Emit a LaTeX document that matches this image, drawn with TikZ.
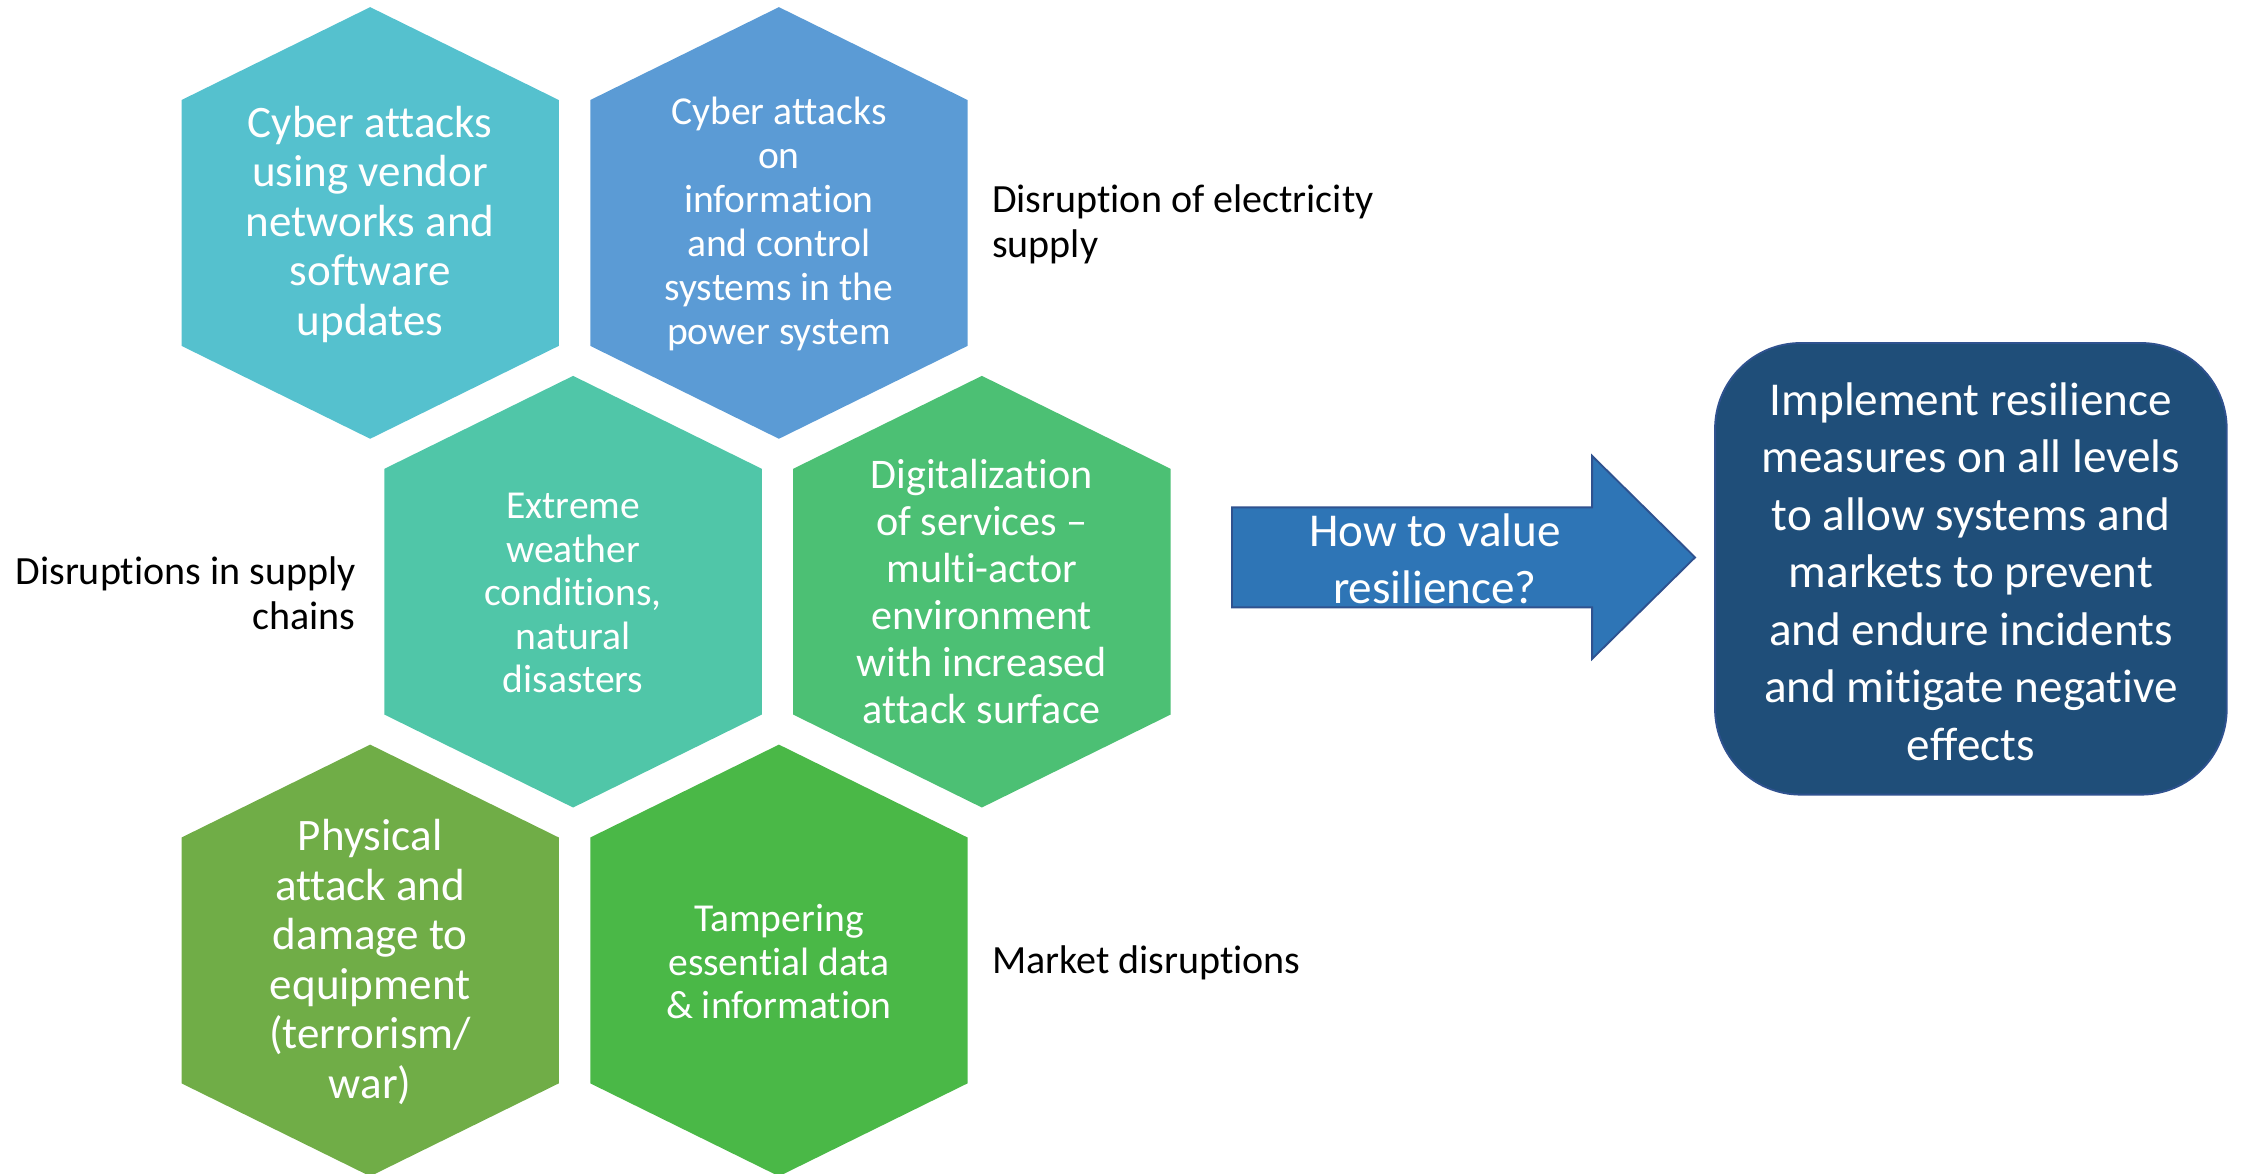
\documentclass[tikz,border=0pt]{standalone}
\usepackage{fontspec}
\setmainfont{Carlito}[Ligatures=CommonOff]

\definecolor{hexcyan}{HTML}{55C1CE}
\definecolor{hexblue}{HTML}{5B9BD5}
\definecolor{hexteal}{HTML}{50C6A8}
\definecolor{hexmint}{HTML}{4CC074}
\definecolor{hexolive}{HTML}{70AD47}
\definecolor{hexgreen}{HTML}{4AB847}
\definecolor{arrowblue}{HTML}{2E75B6}
\definecolor{edgeblue}{HTML}{2F528F}
\definecolor{boxblue}{HTML}{1F4E79}

% pointy-top hexagon around a centre
\newcommand{\hexcell}[2]{\fill[#1, shift={(#2)}] (0,-151) -- (132,-86) -- (132,86) -- (0,151) -- (-132,86) -- (-132,-86) -- cycle;}

\tikzset{
    hextext/.style={text=white, align=center, inner sep=0pt},
    sidelabel/.style={text=black, inner sep=0pt, font=\fontsize{28}{31}\selectfont},
}

\begin{document}
\begin{tikzpicture}[x=1pt, y=-1pt]
    \useasboundingbox (0, 0) rectangle (1568, 821);

    \hexcell{hexcyan}{259, 156}
    \hexcell{hexblue}{545, 156}
    \hexcell{hexteal}{401, 414}
    \hexcell{hexmint}{687, 414}
    \hexcell{hexolive}{259, 672}
    \hexcell{hexgreen}{545, 672}

    \node[hextext, font=\fontsize{31.5}{34.6}\selectfont] (vendor) at (259, 157)
        {Cyber attacks\\using vendor\\networks and\\software\\updates};
    \node[hextext, font=\fontsize{27.7}{30.8}\selectfont] (control) at (545, 157)
        {Cyber attacks\\on\\information\\and control\\systems in the\\power system};
    \node[hextext, font=\fontsize{27.7}{30.5}\selectfont] (weather) at (401, 415)
        {Extreme\\weather\\conditions,\\natural\\disasters};
    \node[hextext, font=\fontsize{29.5}{32.8}\selectfont] (digital) at (687, 414)
        {Digitalization\\of services –\\multi-actor\\environment\\with increased\\attack surface};
    \node[hextext, font=\fontsize{31.5}{34.6}\selectfont] (physical) at (259, 673)
        {Physical\\attack and\\damage to\\equipment\\(terrorism/\\war)};
    \node[hextext, font=\fontsize{27.7}{30.5}\selectfont] (tamper) at (545, 673)
        {Tampering\\essential data\\\& information};

    \node[sidelabel, anchor=west, align=left] (lblpower) at (694, 157)
        {Disruption of electricity\\supply};
    \node[sidelabel, anchor=east, align=right] (lblsupply) at (249, 415)
        {Disruptions in supply\\chains};
    \node[sidelabel, anchor=west] (lblmarket) at (694, 674) {Market disruptions};

    % block arrow
    \filldraw[fill=arrowblue, draw=edgeblue, line width=1.3pt]
        (862, 355) -- (1114, 355) -- (1114, 319) -- (1186, 390)
        -- (1114, 461) -- (1114, 425) -- (862, 425) -- cycle;
    \node[hextext, font=\fontsize{33}{39.5}\selectfont] (value) at (1004, 391)
        {How to value\\resilience?};

    \node[hextext, fill=boxblue, draw=edgeblue, line width=1.3pt, rounded corners=60,
        minimum width=358, minimum height=316, font=\fontsize{33}{40.2}\selectfont]
        (resilience) at (1379, 398) {};
    \node[hextext, font=\fontsize{33}{40.2}\selectfont] (resilietext) at (1379, 400)
        {Implement resilience\\measures on all levels\\to allow systems and\\markets to prevent\\and endure incidents\\and mitigate negative\\effects};
\end{tikzpicture}
\end{document}
